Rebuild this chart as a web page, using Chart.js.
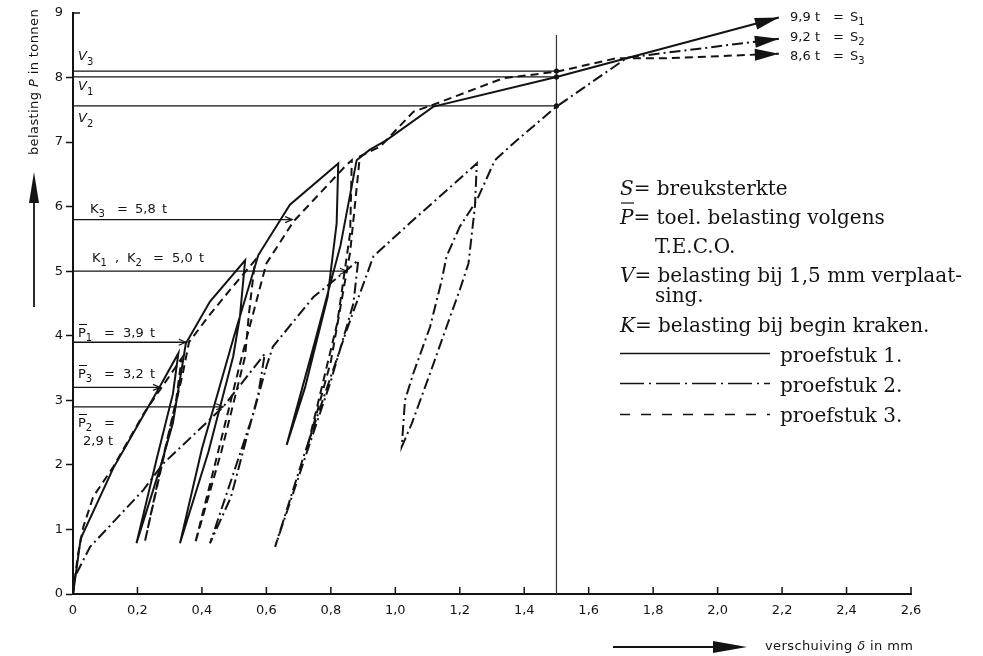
<!DOCTYPE html>
<html>
<head>
<meta charset="utf-8">
<script src="https://cdn.jsdelivr.net/npm/chart.js@4.4.1/dist/chart.umd.min.js"></script>
<style>
  html, body { margin: 0; padding: 0; background: #fff; }
  canvas { display: block; }
</style>
</head>
<body>
<canvas id="grafiek" width="983" height="656"></canvas>
<script>
// Axis ticks
const xTicks = [0, 0.2, 0.4, 0.6, 0.8, 1.0, 1.2, 1.4, 1.6, 1.8, 2.0, 2.2, 2.4, 2.6];
const yTicks = [0, 1, 2, 3, 4, 5, 6, 7, 8, 9];

// Load-displacement paths, points as [verschuiving (mm), belasting (t)]
// proefstuk 1 (solid)
const proefstuk1 = [
  [0, 0], [0.024, 0.86], [0.125, 1.95], [0.27, 3.22], [0.327, 3.73],
  [0.31, 3.1], [0.26, 2.1], [0.197, 0.785],
  [0.27, 1.95], [0.31, 2.65], [0.35, 3.88],
  [0.425, 4.53], [0.534, 5.17],
  [0.518, 4.3], [0.497, 3.68], [0.42, 2.2], [0.332, 0.785],
  [0.40, 2.25], [0.50, 4.0], [0.575, 5.25],
  [0.673, 6.03], [0.823, 6.67],
  [0.818, 5.74], [0.79, 4.6], [0.72, 3.2], [0.663, 2.31],
  [0.75, 3.9], [0.83, 5.4], [0.88, 6.72],
  [0.92, 6.88], [0.973, 7.03], [1.118, 7.55], [1.5, 8.01], [2.19, 8.93]
];
// proefstuk 2 (dash-dot)
const proefstuk2 = [
  [0, 0], [0.006, 0.27], [0.053, 0.73], [0.218, 1.61], [0.28, 2.02], [0.466, 2.9], [0.595, 3.72],
  [0.575, 3.1], [0.49, 1.5], [0.425, 0.785],
  [0.50, 1.9], [0.56, 2.8], [0.60, 3.52], [0.62, 3.83],
  [0.746, 4.6], [0.85, 5.02], [0.885, 5.17],
  [0.87, 4.5], [0.80, 3.3], [0.627, 0.73],
  [0.72, 2.2], [0.85, 4.1], [0.932, 5.23],
  [1.046, 5.75], [1.253, 6.67],
  [1.247, 6.0], [1.227, 5.12], [1.2, 4.71], [1.159, 4.14], [1.108, 3.42], [1.051, 2.64], [1.02, 2.28],
  [1.03, 3.0], [1.056, 3.42], [1.108, 4.14], [1.144, 4.86], [1.159, 5.23], [1.2, 5.69], [1.253, 6.1],
  [1.309, 6.72], [1.366, 6.98], [1.5, 7.55], [1.72, 8.31], [2.19, 8.6]
];
// proefstuk 3 (dashed)
const proefstuk3 = [
  [0, 0], [0.015, 0.6], [0.032, 1.04], [0.063, 1.51], [0.125, 1.97], [0.22, 2.8], [0.337, 3.65],
  [0.32, 3.0], [0.27, 1.9], [0.223, 0.81],
  [0.30, 2.54], [0.34, 3.4], [0.36, 3.9],
  [0.42, 4.3], [0.487, 4.71], [0.565, 5.17],
  [0.545, 4.3], [0.534, 3.68], [0.46, 2.2], [0.379, 0.785],
  [0.45, 2.2], [0.53, 3.8], [0.60, 5.12],
  [0.684, 5.77], [0.849, 6.65], [0.865, 6.72],
  [0.86, 5.6], [0.82, 4.2], [0.725, 2.23],
  [0.80, 3.6], [0.86, 5.3], [0.89, 6.78],
  [0.953, 6.93], [1.056, 7.47], [1.118, 7.58], [1.335, 7.99], [1.5, 8.09],
  [1.687, 8.3], [1.852, 8.3], [2.19, 8.37]
];

// Loads at 1,5 mm displacement: V3, V1, V2
const vNamen = ['3', '1', '2'];
const vWaarden = [8.10, 8.01, 7.56];
const vVerschuiving = 1.5;
const vLijnTop = 8.66;

// Cracking loads (K) and permitted loads (P), with the displacement where each arrow meets its curve
const kWaarden = [5.8, 5.0];
const kEinden = [0.68, 0.85];
const pNamen = ['1', '3', '2'];
const pWaarden = [3.9, 3.2, 2.9];
const pEinden = [0.35, 0.27, 0.466];

// Ultimate loads S1, S2, S3 (in t)
const sWaarden = [9.9, 9.2, 8.6];

const INKT = '#131313';
const SANS = '"DejaVu Sans", sans-serif';
const SERIF = '"DejaVu Serif", serif';

const toPts = arr => arr.map(([x, y]) => ({ x, y }));
const komma = v => (v === 0 ? '0' : v.toFixed(1).replace('.', ','));

const curveDash = { 1: [], 2: [11, 4, 2, 4], 3: [8, 5] };

const refSets = [];
vWaarden.forEach(v => refSets.push([[0, v], [vVerschuiving, v]]));
kWaarden.forEach((v, i) => refSets.push([[0, v], [kEinden[i], v]]));
pWaarden.forEach((v, i) => refSets.push([[0, v], [pEinden[i], v]]));

const datasets = [
  ...refSets.map(s => ({
    data: toPts(s), showLine: true, pointRadius: 0, borderColor: INKT, borderWidth: 1.3
  })),
  {
    data: toPts([[vVerschuiving, 0], [vVerschuiving, vLijnTop]]), showLine: true, pointRadius: 0,
    borderColor: '#333', borderWidth: 1.2
  },
  { data: toPts(proefstuk1), showLine: true, pointRadius: 0, borderColor: INKT, borderWidth: 2, borderDash: curveDash[1] },
  { data: toPts(proefstuk2), showLine: true, pointRadius: 0, borderColor: INKT, borderWidth: 2, borderDash: curveDash[2] },
  { data: toPts(proefstuk3), showLine: true, pointRadius: 0, borderColor: INKT, borderWidth: 2, borderDash: curveDash[3] }
];

function pijlpunt(ctx, x0, y0, x1, y1, len, half, gevuld) {
  const a = Math.atan2(y1 - y0, x1 - x0);
  const bx = x1 - len * Math.cos(a), by = y1 - len * Math.sin(a);
  const nx = -Math.sin(a) * half, ny = Math.cos(a) * half;
  ctx.beginPath();
  ctx.setLineDash([]);
  if (gevuld) {
    ctx.moveTo(x1, y1);
    ctx.lineTo(bx + nx, by + ny);
    ctx.lineTo(bx - nx, by - ny);
    ctx.closePath();
    ctx.fill();
  } else {
    ctx.moveTo(bx + nx, by + ny);
    ctx.lineTo(x1, y1);
    ctx.lineTo(bx - nx, by - ny);
    ctx.stroke();
  }
}

// draws text pieces [text, font, dy, absoluteX] one after another from x on baseline y
function stukken(ctx, x, y, delen) {
  let cx = x;
  delen.forEach(([t, f, dy, at]) => {
    ctx.font = f;
    if (at !== undefined) cx = at;
    ctx.fillText(t, cx, y + (dy || 0));
    cx += ctx.measureText(t).width;
  });
  return cx;
}

const annotaties = {
  id: 'annotaties',
  afterDatasetsDraw(chart) {
    const { ctx } = chart;
    const sx = chart.scales.x, sy = chart.scales.y;
    const px = v => sx.getPixelForValue(v), py = v => sy.getPixelForValue(v);
    ctx.save();
    ctx.fillStyle = INKT;
    ctx.strokeStyle = INKT;
    ctx.lineCap = 'butt';

    // x ticks pointing into the plot
    ctx.lineWidth = 1.5;
    xTicks.forEach(v => {
      if (v === 0) return;
      ctx.beginPath();
      ctx.moveTo(px(v), py(0));
      ctx.lineTo(px(v), py(0) - 7);
      ctx.stroke();
    });
    // top y tick pointing inward
    ctx.beginPath();
    ctx.moveTo(px(0), py(9));
    ctx.lineTo(px(0) + 7, py(9));
    ctx.stroke();

    // arrowheads at the curve ends
    [proefstuk1, proefstuk2, proefstuk3].forEach(c => {
      const a = c[c.length - 2], b = c[c.length - 1];
      pijlpunt(ctx, px(a[0]), py(a[1]), px(b[0]), py(b[1]), 24, 6, true);
    });

    // arrowheads on K and P lines
    ctx.lineWidth = 1.2;
    kWaarden.forEach((v, i) => pijlpunt(ctx, px(0), py(v), px(kEinden[i]), py(v), 7, 3, false));
    pWaarden.forEach((v, i) => pijlpunt(ctx, px(0), py(v), px(pEinden[i]), py(v), 7, 3, false));

    // dots where V lines meet the 1,5 mm line
    vWaarden.forEach(v => {
      ctx.beginPath();
      ctx.arc(px(vVerschuiving), py(v), 2.6, 0, Math.PI * 2);
      ctx.fill();
    });

    // labels of the reference lines
    ctx.textBaseline = 'alphabetic';
    ctx.textAlign = 'left';
    const f13 = '13px ' + SANS, f13i = 'italic 13px ' + SANS, f10 = '10px ' + SANS;
    const vBase = [60, 90, 122];
    vNamen.forEach((n, i) => stukken(ctx, 78, vBase[i], [['V', f13i], [n, f10, 5]]));

    stukken(ctx, 90, 213, [['K', f13], ['3', f10, 4], ['=', f13, 0, 117], [komma(kWaarden[0]), f13, 0, 135], ['t', f13, 0, 162]]);
    stukken(ctx, 92, 262, [['K', f13], ['1', f10, 4], [',', f13, 0, 115], ['K', f13, 0, 127], ['2', f10, 4],
      ['=', f13, 0, 153], [komma(kWaarden[1]), f13, 0, 172], ['t', f13, 0, 199]]);

    const pBase = [337, 378, 427];
    pNamen.forEach((n, i) => {
      const b = pBase[i];
      const delen = [['P', f13], [n, f10, 4], ['=', f13, 0, 104]];
      if (i < 2) delen.push([komma(pWaarden[i]), f13, 0, 123], ['t', f13, 0, 150]);
      stukken(ctx, 78, b, delen);
      ctx.lineWidth = 1;
      ctx.beginPath();
      ctx.moveTo(79, b - 12.5);
      ctx.lineTo(87, b - 12.5);
      ctx.stroke();
    });
    stukken(ctx, 83, 445, [[komma(pWaarden[2]), f13], ['t', f13, 0, 108]]);

    // ultimate loads at the curve ends
    const sBase = [21, 41, 60];
    sWaarden.forEach((s, i) => {
      stukken(ctx, 790, sBase[i], [[komma(s), f13], ['t', f13, 0, 815], ['=', f13, 0, 833], ['S', f13, 0, 850], [String(i + 1), f10, 4]]);
    });

    // explanation block
    const fs = '20px ' + SERIF, fsi = 'italic 20px ' + SERIF;
    stukken(ctx, 620, 195, [['S', fsi], ['= breuksterkte', fs]]);
    stukken(ctx, 620, 224, [['P', fsi], ['= toel. belasting volgens', fs]]);
    ctx.lineWidth = 1.2;
    ctx.beginPath();
    ctx.moveTo(621, 203);
    ctx.lineTo(634, 203);
    ctx.stroke();
    stukken(ctx, 655, 253, [['T.E.C.O.', fs]]);
    stukken(ctx, 620, 282, [['V', fsi], ['= belasting bij 1,5 mm verplaat-', fs]]);
    stukken(ctx, 655, 302, [['sing.', fs]]);
    stukken(ctx, 620, 332, [['K', fsi], ['= belasting bij begin kraken.', fs]]);
    const leg = [[353.5, 362, 1], [383.5, 392, 2], [414.5, 422, 3]];
    leg.forEach(([ly, tb, n]) => {
      ctx.lineWidth = 1.3;
      ctx.setLineDash(n === 1 ? [] : n === 2 ? [24, 5, 2, 5] : [10, 11]);
      ctx.beginPath();
      ctx.moveTo(620, ly);
      ctx.lineTo(770, ly);
      ctx.stroke();
      ctx.setLineDash([]);
      stukken(ctx, 780, tb, [['proefstuk ' + n + '.', fs]]);
    });

    // axis titles with arrows
    ctx.save();
    ctx.translate(38, 82);
    ctx.rotate(-Math.PI / 2);
    ctx.letterSpacing = '0.4px';
    const yDelen = [['belasting ', f13], ['P', f13i], [' in tonnen', f13]];
    let w = 0;
    yDelen.forEach(([t, f]) => { ctx.font = f; w += ctx.measureText(t).width; });
    stukken(ctx, -w / 2, 0, yDelen);
    ctx.restore();
    ctx.lineWidth = 1.8;
    ctx.beginPath();
    ctx.moveTo(34, 307);
    ctx.lineTo(34, 195);
    ctx.stroke();
    pijlpunt(ctx, 34, 307, 34, 172, 31, 5, true);

    ctx.save();
    ctx.letterSpacing = '0.4px';
    stukken(ctx, 765, 650, [['verschuiving ', f13], ['δ', f13i], [' in mm', f13]]);
    ctx.restore();
    ctx.beginPath();
    ctx.moveTo(613, 647);
    ctx.lineTo(720, 647);
    ctx.stroke();
    pijlpunt(ctx, 613, 647, 747, 647, 34, 6, true);

    ctx.restore();
  }
};

new Chart(document.getElementById('grafiek'), {
  type: 'scatter',
  data: { datasets },
  options: {
    responsive: false,
    animation: false,
    devicePixelRatio: 1,
    layout: { padding: { left: 0, right: 72, top: 13, bottom: 0 } },
    plugins: { legend: { display: false }, tooltip: { enabled: false } },
    elements: { line: { tension: 0 } },
    scales: {
      x: {
        type: 'linear', min: 0, max: 2.6,
        afterBuildTicks: s => { s.ticks = xTicks.map(v => ({ value: v })); },
        afterFit: s => { s.height = 62; },
        grid: { drawOnChartArea: false, drawTicks: false },
        border: { color: INKT, width: 2 },
        ticks: { callback: v => komma(v), padding: 9, color: INKT, font: { family: SANS, size: 13 }, maxRotation: 0, autoSkip: false }
      },
      y: {
        type: 'linear', min: 0, max: 9,
        afterBuildTicks: s => { s.ticks = yTicks.map(v => ({ value: v })); },
        afterFit: s => { s.width = 73; },
        grid: {
          drawOnChartArea: false, tickLength: 7, tickWidth: 1.5,
          tickColor: c => (c.tick && c.tick.value === 9 ? 'rgba(0,0,0,0)' : INKT)
        },
        border: { color: INKT, width: 2 },
        ticks: { padding: 3, color: INKT, font: { family: SANS, size: 13 } }
      }
    }
  },
  plugins: [annotaties]
});
</script>
</body>
</html>
